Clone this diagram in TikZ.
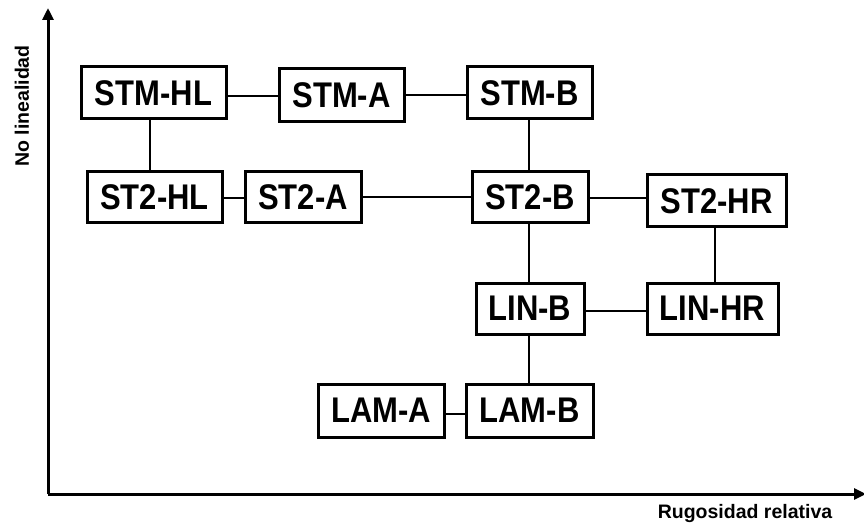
\documentclass[tikz,border=0pt]{standalone}
\usepackage{fontspec}
\usepackage{graphicx}
\setmainfont{Liberation Sans}
\usetikzlibrary{arrows.meta}
\newcommand{\bxt}[1]{\scalebox{1}[1.15]{#1}}
\begin{document}
\begin{tikzpicture}[x=1pt,y=-1pt,
  box/.style={draw,line width=3pt,inner sep=0pt,font=\fontsize{31}{31}\bfseries\selectfont},
  conn/.style={line width=2.3pt},
  axis/.style={line width=3pt,-{Triangle[length=12pt,width=11pt]}},
  axlabel/.style={font=\fontsize{19.5}{20}\bfseries\selectfont}]
\useasboundingbox (0,0) rectangle (864,529);
\node[box,minimum width=145pt,minimum height=52pt] (stmhl) at (153.5,93) {\bxt{STM-HL}};
\node[box,minimum width=125pt,minimum height=53pt] (stma) at (341.5,95.5) {\bxt{STM-A}};
\node[box,minimum width=125pt,minimum height=52pt] (stmb) at (529.5,93) {\bxt{STM-B}};
\node[box,minimum width=135pt,minimum height=51pt] (sthl) at (154.5,197.5) {\bxt{ST2-HL}};
\node[box,minimum width=116pt,minimum height=51pt] (sta) at (303,197.5) {\bxt{ST2-A}};
\node[box,minimum width=116pt,minimum height=51pt] (stb) at (530,197.5) {\bxt{ST2-B}};
\node[box,minimum width=139pt,minimum height=52pt] (sthr) at (716.5,201) {\bxt{ST2-HR}};
\node[box,minimum width=108pt,minimum height=51pt] (linb) at (530,308.5) {\bxt{LIN-B}};
\node[box,minimum width=131pt,minimum height=51pt] (linhr) at (712.5,308.5) {\bxt{LIN-HR}};
\node[box,minimum width=126pt,minimum height=53pt] (lama) at (381,410.5) {\bxt{LAM-A}};
\node[box,minimum width=127pt,minimum height=53pt] (lamb) at (529.5,410.5) {\bxt{LAM-B}};
% axes
\coordinate (origin) at (48,494);
\coordinate (ytip) at (48,8);
\coordinate (xtip) at (866,494);
\draw[axis] (origin) -- (ytip);
\draw[axis] (origin) -- (xtip);
\node[axlabel,rotate=90] (ylab) at (22,106) {No linealidad};
\node[axlabel] (xlab) at (745,513) {Rugosidad relativa};
% connectors
\draw[conn] (stmhl.east |- 0,96) -- (stma.west |- 0,96);
\draw[conn] (stma.east |- 0,95) -- (stmb.west |- 0,95);
\draw[conn] (stmhl.south -| 150,0) -- (sthl.north -| 150,0);
\draw[conn] (sthl.east |- 0,198) -- (sta.west |- 0,198);
\draw[conn] (sta.east |- 0,197) -- (stb.west |- 0,197);
\draw[conn] (stb.east |- 0,198) -- (sthr.west |- 0,198);
\draw[conn] (stmb.south -| 529,0) -- (stb.north -| 529,0);
\draw[conn] (stb.south -| 529,0) -- (linb.north -| 529,0);
\draw[conn] (sthr.south -| 715,0) -- (linhr.north -| 715,0);
\draw[conn] (linb.east |- 0,311) -- (linhr.west |- 0,311);
\draw[conn] (linb.south -| 529,0) -- (lamb.north -| 529,0);
\draw[conn] (lama.east |- 0,414) -- (lamb.west |- 0,414);
\end{tikzpicture}
\end{document}
